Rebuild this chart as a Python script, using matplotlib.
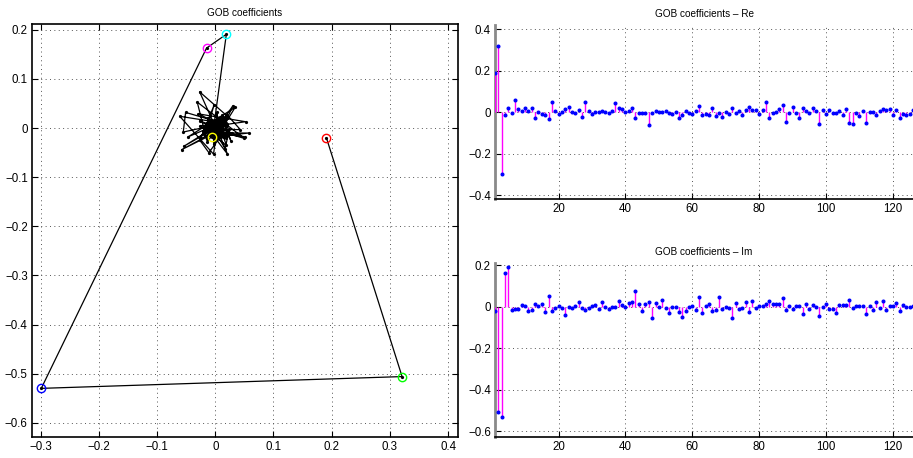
import numpy as np
import matplotlib
matplotlib.use("Agg")
import matplotlib.pyplot as plt
from matplotlib.ticker import FuncFormatter, FixedLocator

plt.rcParams['font.family'] = ['Liberation Sans', 'DejaVu Sans']

# GOB coefficients: real and imaginary parts, index 1..126
re_vals = [
    0.191, 0.321, -0.299, -0.015, 0.019, -0.005, 0.058, 0.014, 0.006, 0.021,
    0.006, 0.020, -0.027, 0.002, -0.006, -0.015, -0.031, 0.050, 0.007, -0.007,
    0.000, 0.017, 0.024, 0.002, -0.005, 0.011, -0.021, 0.051, 0.008, -0.006,
    0.000, 0.003, 0.005, 0.003, -0.003, 0.008, 0.043, 0.021, 0.014, 0.000,
    0.008, 0.021, -0.027, -0.003, -0.002, -0.002, -0.061, -0.003, 0.005, 0.003,
    0.003, 0.005, -0.002, -0.006, 0.002, -0.027, -0.011, 0.008, -0.002, -0.010,
    0.006, 0.030, -0.014, -0.006, -0.014, 0.019, -0.018, -0.002, -0.021, 0.002,
    -0.010, 0.021, -0.003, 0.005, -0.011, 0.013, 0.027, 0.011, 0.011, -0.008,
    0.010, 0.052, -0.029, -0.002, 0.002, 0.018, 0.034, -0.047, -0.002, 0.028,
    -0.005, -0.026, 0.019, 0.005, -0.005, 0.021, 0.008, -0.058, 0.013, -0.008,
    0.010, -0.002, -0.002, 0.005, -0.011, 0.018, -0.051, -0.055, -0.005, -0.018,
    0.005, -0.054, 0.000, 0.003, -0.013, 0.008, 0.018, 0.011, 0.016, -0.014,
    0.011, -0.027, -0.006, -0.014, -0.006, 0.010,
]
im_vals = [
    -0.020, -0.506, -0.530, 0.163, 0.191, -0.018, -0.010, -0.010, 0.010, 0.005,
    -0.019, -0.016, 0.015, 0.002, 0.015, -0.023, 0.053, -0.021, -0.006, 0.005,
    -0.008, -0.042, -0.002, -0.006, 0.003, 0.021, -0.006, -0.018, -0.006, 0.002,
    0.010, -0.013, 0.021, -0.002, -0.010, -0.003, -0.003, 0.026, 0.010, -0.002,
    0.016, 0.024, 0.074, 0.011, -0.021, 0.013, 0.024, -0.053, 0.016, -0.003,
    0.032, -0.005, -0.032, 0.000, -0.003, -0.024, -0.050, -0.019, 0.000, 0.003,
    -0.018, 0.045, -0.029, 0.003, 0.011, -0.021, -0.015, 0.047, -0.010, -0.003,
    -0.005, -0.053, 0.016, -0.013, -0.008, 0.023, -0.027, 0.026, -0.006, 0.006,
    0.006, 0.013, 0.029, 0.013, 0.013, 0.011, 0.042, -0.018, 0.005, -0.010,
    0.006, 0.005, -0.035, 0.015, -0.010, 0.008, -0.002, -0.044, -0.002, 0.013,
    -0.010, -0.013, -0.029, 0.008, 0.010, 0.008, 0.032, -0.008, 0.005, 0.005,
    0.003, -0.037, 0.003, -0.015, 0.021, -0.008, 0.026, -0.016, 0.006, 0.006,
    0.018, -0.019, 0.010, -0.002, 0.000, 0.006,
]
# colours of the circles marking the first few coefficients
lead_colors = ['#ff0000', '#00ff00', '#0000ff', '#ff00ff', '#00ffff', '#ffff00']

title_main = "GOB coefficients"
title_re = "GOB coefficients \u2013 Re"
title_im = "GOB coefficients \u2013 Im"

re = np.array(re_vals)
im = np.array(im_vals)
idx = np.arange(1, len(re) + 1)

TICK_FS = 8.3
TITLE_FS = 7.2

def fmt(v, pos):
    if abs(v) < 1e-9:
        return "0"
    s = "{:g}".format(round(v, 6))
    return s.replace("-", "\u2212")

def style_axes(ax, box):
    ax.grid(True, linestyle=(0, (1, 3.5)), color='#555555', linewidth=0.7)
    ax.set_axisbelow(True)
    ax.tick_params(direction='in', length=4, width=0.8, labelsize=TICK_FS,
                   top=box, right=box, pad=3)
    ax.xaxis.set_major_formatter(FuncFormatter(fmt))
    ax.yaxis.set_major_formatter(FuncFormatter(fmt))

fig = plt.figure(figsize=(9.13, 4.58), dpi=100)

# complex-plane trajectory of the coefficients
ax0 = fig.add_axes([0.0350, 0.0459, 0.4666, 0.9017])
ax0.plot(re, im, '-', color='black', linewidth=0.9, marker='o',
         markersize=1.3, zorder=3)
for k, c in enumerate(lead_colors):
    ax0.plot(re[k], im[k], 'o', markerfacecolor='none', markeredgecolor=c,
             markersize=6.0, markeredgewidth=1.0, zorder=4)
ax0.set_xlim(-0.315, 0.417)
ax0.set_ylim(-0.629, 0.212)
ax0.xaxis.set_major_locator(FixedLocator(np.round(np.arange(-0.3, 0.41, 0.1), 2)))
ax0.yaxis.set_major_locator(FixedLocator(np.round(np.arange(-0.6, 0.21, 0.1), 2)))
style_axes(ax0, True)
for sp in ax0.spines.values():
    sp.set_linewidth(1.2)
ax0.set_title(title_main, fontsize=TITLE_FS, pad=6)

def stem_axes(rect, vals, ylim, yticks, title):
    ax = fig.add_axes(rect)
    ml, sl, bl = ax.stem(idx, vals, linefmt='-', markerfmt='o', basefmt=' ')
    plt.setp(sl, color='#ff00ff', linewidth=1.0, zorder=3)
    plt.setp(ml, color='#0000ff', markersize=1.9, zorder=4)
    bl.set_visible(False)
    ax.set_xlim(1, len(vals))
    ax.set_ylim(*ylim)
    ax.xaxis.set_major_locator(FixedLocator([20, 40, 60, 80, 100, 120]))
    ax.yaxis.set_major_locator(FixedLocator(yticks))
    style_axes(ax, False)
    ax.spines['top'].set_visible(False)
    ax.spines['right'].set_visible(False)
    ax.spines['left'].set_color('#8a8a8a')
    ax.spines['left'].set_linewidth(2.0)
    ax.spines['bottom'].set_linewidth(1.2)
    ax.set_title(title, fontsize=TITLE_FS, pad=6)
    return ax

stem_axes([0.5422, 0.5648, 0.4578, 0.380], re, (-0.42, 0.42),
          [-0.4, -0.2, 0, 0.2, 0.4], title_re)
stem_axes([0.5422, 0.0452, 0.4578, 0.380], im, (-0.63, 0.21),
          [-0.6, -0.4, -0.2, 0, 0.2], title_im)

fig.savefig("out.png", dpi=100)
